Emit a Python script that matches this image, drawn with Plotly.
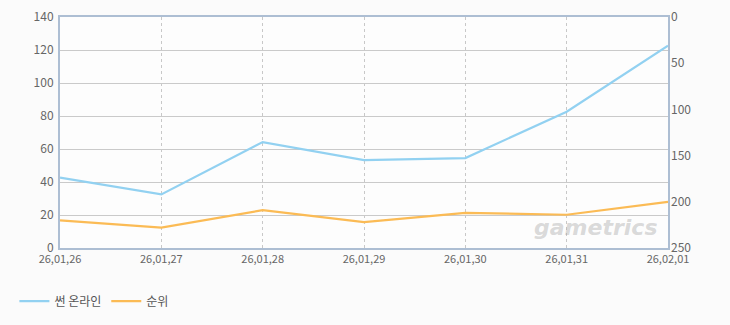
import plotly.graph_objects as go

dates = ["26,01,26", "26,01,27", "26,01,28", "26,01,29", "26,01,30", "26,01,31", "26,02,01"]
online = [42.6, 32.5, 64.2, 53.3, 54.5, 82.6, 122.6]
rank = [220, 228, 209, 222, 212, 214, 200]
left_ticks = [0, 20, 40, 60, 80, 100, 120, 140]
right_ticks = [0, 50, 100, 150, 200, 250]

xs = list(range(len(dates)))
fig = go.Figure()
fig.add_trace(go.Scatter(x=xs, y=online, mode="lines", name="썬 온라인",
                         line=dict(color="#92d1f1", width=2.2)))
fig.add_trace(go.Scatter(x=xs, y=rank, mode="lines", name="순위", yaxis="y2",
                         line=dict(color="#fbbb55", width=2.2)))

font = "Noto Sans CJK KR, DejaVu Sans, sans-serif"
fig.update_layout(
    width=730, height=325,
    margin=dict(l=60, r=62, t=17, b=77, autoexpand=False),
    paper_bgcolor="#fbfbfb", plot_bgcolor="#fdfdfd",
    font=dict(family=font, size=12, color="#666666"),
    showlegend=True,
    legend=dict(orientation="h", x=-0.075, y=-0.23, xanchor="left", yanchor="middle",
                font=dict(size=12, color="#555555"), itemwidth=30,
                bgcolor="rgba(0,0,0,0)"),
    xaxis=dict(range=[0, 6], tickmode="array", tickvals=xs, ticktext=dates,
               showgrid=True, gridcolor="#c8c8c8", griddash="3px,3px", gridwidth=1,
               showline=True, linecolor="#adbed3", linewidth=2, mirror=True,
               zeroline=False, ticks="", ticklabelstandoff=0, automargin=False,
               tickfont=dict(size=11, color="#666666")),
    yaxis=dict(range=[0, 140], tickvals=left_ticks, showgrid=True, gridcolor="#cacaca",
               showline=True, linecolor="#adbed3", linewidth=2, mirror=True,
               zeroline=False, ticks="", ticklabelstandoff=2, automargin=False,
               tickfont=dict(size=12, color="#666666")),
    yaxis2=dict(range=[250, 0], tickvals=right_ticks, overlaying="y", side="right",
                showgrid=False, showline=False, zeroline=False, ticks="",
                ticklabelstandoff=2, automargin=False,
                tickfont=dict(size=12, color="#666666")),
)
fig.add_annotation(text="<b><i>gametrics</i></b>", xref="paper", yref="paper",
                   x=0.985, y=0.025, xanchor="right", yanchor="bottom", showarrow=False,
                   font=dict(size=22, color="rgba(160,160,160,0.4)", family="DejaVu Sans"))
fig.write_html("out.html")
